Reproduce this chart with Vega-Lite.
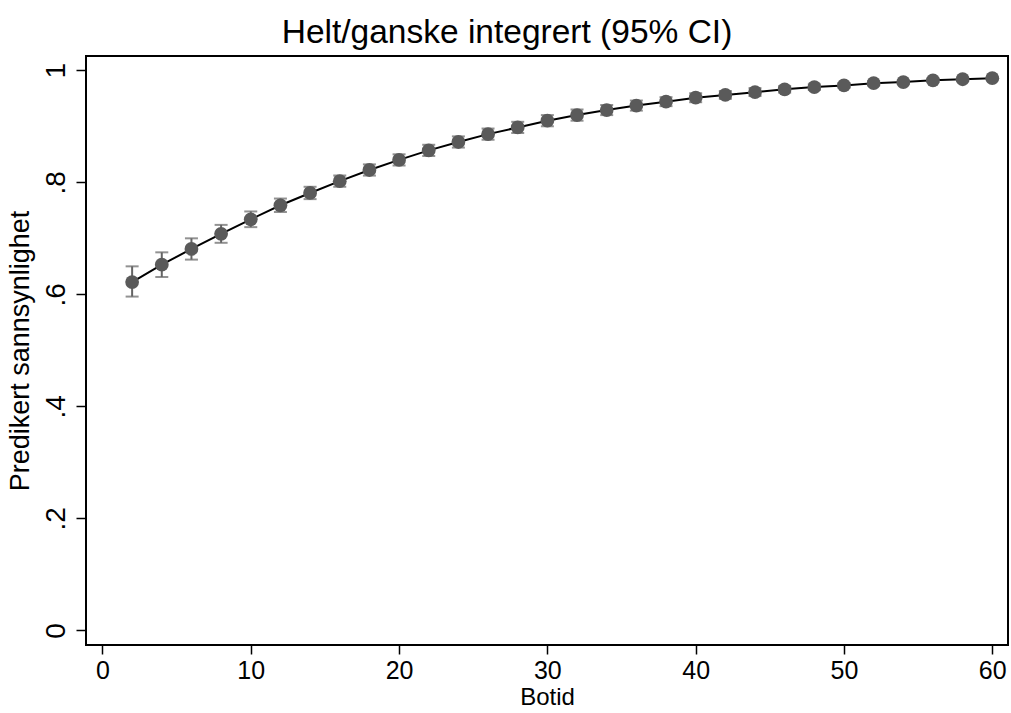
{
  "$schema": "https://vega.github.io/schema/vega-lite/v6.json",
  "width": 922,
  "height": 589,
  "autosize": {"type": "none"},
  "padding": {"left": 86, "top": 56, "right": 3, "bottom": 68},
  "background": "white",
  "title": {
    "text": "Helt/ganske integrert (95% CI)",
    "font": "Liberation Sans",
    "fontSize": 33.5,
    "fontWeight": "normal",
    "color": "black",
    "anchor": "middle",
    "frame": "bounds",
    "offset": 6
  },
  "config": {
    "view": {"stroke": "black", "strokeWidth": 2},
    "axis": {
      "grid": false,
      "domain": false,
      "tickColor": "black",
      "tickWidth": 1.5,
      "labelColor": "black",
      "titleColor": "black",
      "labelFont": "Liberation Sans",
      "titleFont": "Liberation Sans",
      "titleFontWeight": "normal"
    }
  },
  "data": {
    "values": [
      {"botid": 2, "p": 0.622, "lo": 0.596, "hi": 0.650},
      {"botid": 4, "p": 0.653, "lo": 0.631, "hi": 0.675},
      {"botid": 6, "p": 0.681, "lo": 0.662, "hi": 0.700},
      {"botid": 8, "p": 0.708, "lo": 0.692, "hi": 0.724},
      {"botid": 10, "p": 0.734, "lo": 0.720, "hi": 0.748},
      {"botid": 12, "p": 0.759, "lo": 0.747, "hi": 0.771},
      {"botid": 14, "p": 0.781, "lo": 0.770, "hi": 0.792},
      {"botid": 16, "p": 0.802, "lo": 0.792, "hi": 0.812},
      {"botid": 18, "p": 0.822, "lo": 0.812, "hi": 0.832},
      {"botid": 20, "p": 0.840, "lo": 0.830, "hi": 0.850},
      {"botid": 22, "p": 0.857, "lo": 0.847, "hi": 0.867},
      {"botid": 24, "p": 0.872, "lo": 0.862, "hi": 0.882},
      {"botid": 26, "p": 0.886, "lo": 0.876, "hi": 0.896},
      {"botid": 28, "p": 0.898, "lo": 0.888, "hi": 0.908},
      {"botid": 30, "p": 0.910, "lo": 0.900, "hi": 0.920},
      {"botid": 32, "p": 0.920, "lo": 0.910, "hi": 0.930},
      {"botid": 34, "p": 0.929, "lo": 0.920, "hi": 0.938},
      {"botid": 36, "p": 0.937, "lo": 0.928, "hi": 0.946},
      {"botid": 38, "p": 0.944, "lo": 0.936, "hi": 0.952},
      {"botid": 40, "p": 0.951, "lo": 0.943, "hi": 0.959},
      {"botid": 42, "p": 0.956, "lo": 0.949, "hi": 0.963},
      {"botid": 44, "p": 0.961, "lo": 0.954, "hi": 0.968},
      {"botid": 46, "p": 0.966, "lo": 0.960, "hi": 0.972},
      {"botid": 48, "p": 0.970, "lo": 0.965, "hi": 0.975},
      {"botid": 50, "p": 0.973, "lo": 0.969, "hi": 0.977},
      {"botid": 52, "p": 0.977, "lo": 0.973, "hi": 0.981},
      {"botid": 54, "p": 0.979, "lo": 0.976, "hi": 0.982},
      {"botid": 56, "p": 0.982, "lo": 0.979, "hi": 0.985},
      {"botid": 58, "p": 0.984, "lo": 0.981, "hi": 0.987},
      {"botid": 60, "p": 0.986, "lo": 0.984, "hi": 0.988}
    ]
  },
  "encoding": {
    "x": {
      "field": "botid",
      "type": "quantitative",
      "scale": {"domain": [-1.11, 61.06], "nice": false, "zero": false},
      "axis": {
        "title": "Botid",
        "values": [0, 10, 20, 30, 40, 50, 60],
        "tickSize": 9,
        "labelFontSize": 25,
        "labelPadding": 4,
        "labelBaseline": "top",
        "titleFontSize": 24,
        "titlePadding": 2
      }
    }
  },
  "layer": [
    {
      "mark": {"type": "errorbar", "ticks": {"size": 13, "thickness": 2}, "thickness": 2, "color": "#646464"},
      "encoding": {
        "y": {"field": "lo", "type": "quantitative", "scale": {"domain": [-0.026, 1.0255], "nice": false, "zero": false},
          "axis": {
            "title": "Predikert sannsynlighet",
            "values": [0, 0.2, 0.4, 0.6, 0.8, 1],
            "labelExpr": "datum.value == 0 ? '0' : datum.value == 1 ? '1' : replace(format(datum.value, '.1f'), '0.', '.')",
            "tickSize": 10,
            "labelAngle": -90,
            "labelAlign": "center",
            "labelBaseline": "bottom",
            "labelFontSize": 28,
            "labelPadding": 6,
            "titleFontSize": 27,
            "titlePadding": 8
          }
        },
        "y2": {"field": "hi"}
      }
    },
    {
      "mark": {"type": "line", "color": "black", "strokeWidth": 2},
      "encoding": {"y": {"field": "p", "type": "quantitative"}}
    },
    {
      "mark": {"type": "point", "filled": true, "shape": "circle", "size": 190, "color": "#5a5a5a", "opacity": 1},
      "encoding": {"y": {"field": "p", "type": "quantitative"}}
    }
  ]
}
